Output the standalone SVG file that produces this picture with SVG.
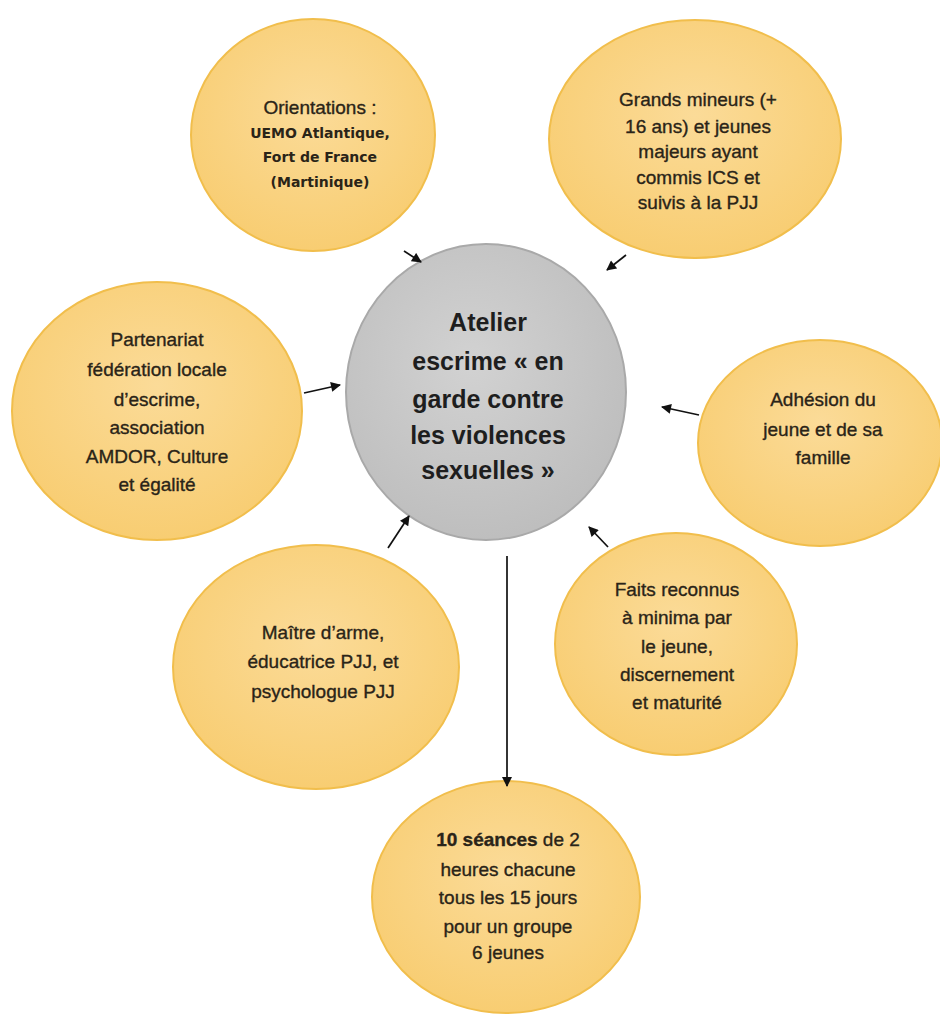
<svg xmlns="http://www.w3.org/2000/svg" width="940" height="1016" viewBox="0 0 940 1016">
<defs>
<radialGradient id="yg" cx="50%" cy="40%" r="60%">
<stop offset="0" stop-color="#FBDB98"/>
<stop offset="1" stop-color="#F8CD72"/>
</radialGradient>
<radialGradient id="gg" cx="45%" cy="40%" r="60%">
<stop offset="0" stop-color="#D2D2D2"/>
<stop offset="1" stop-color="#BEBEBE"/>
</radialGradient>
<marker id="ah" viewBox="0 0 10 10" refX="9" refY="5" markerWidth="11" markerHeight="10" orient="auto" markerUnits="userSpaceOnUse">
<path d="M0,0 L10,5 L0,10 z" fill="#111"/>
</marker>
</defs>
<style>
.y{fill:url(#yg);stroke:#F1BE4C;stroke-width:2}
.g{fill:url(#gg);stroke:#A9A9A9;stroke-width:2}
.t{font-family:"Liberation Sans",Arial,sans-serif;font-size:19px;fill:#2A2418;stroke:#2A2418;stroke-width:0.35;text-anchor:middle}
.c{font-family:"Liberation Sans",Arial,sans-serif;font-size:25px;font-weight:bold;fill:#1E1E1E;text-anchor:middle}
.s{font-family:"DejaVu Sans",Verdana,sans-serif;font-size:14px;font-weight:bold;fill:#2A2418;text-anchor:middle}
.e{stroke:#111;stroke-width:1.7;fill:none;marker-end:url(#ah)}
</style>
<rect width="940" height="1016" fill="#fff"/>
<g id="orientations">
<ellipse class="y" cx="313" cy="135" rx="122" ry="116"/>
<text class="t" x="320" y="114">Orientations :</text>
<text class="s" x="320" y="138">UEMO Atlantique,</text>
<text class="s" x="320" y="162">Fort de France</text>
<text class="s" x="320" y="187">(Martinique)</text>
</g>
<g id="grands-mineurs">
<ellipse class="y" cx="695" cy="139" rx="146" ry="119"/>
<text class="t" x="698" y="106">Grands mineurs (+</text>
<text class="t" x="698" y="133">16 ans) et jeunes</text>
<text class="t" x="698" y="158">majeurs ayant</text>
<text class="t" x="698" y="184">commis ICS et</text>
<text class="t" x="698" y="209">suivis à la PJJ</text>
</g>
<g id="atelier">
<ellipse class="g" cx="486" cy="392" rx="140" ry="148"/>
<text class="c" x="488" y="331">Atelier</text>
<text class="c" x="488" y="370">escrime « en</text>
<text class="c" x="488" y="408">garde contre</text>
<text class="c" x="488" y="444">les violences</text>
<text class="c" x="488" y="479">sexuelles »</text>
</g>
<g id="partenariat">
<ellipse class="y" cx="157" cy="411" rx="145" ry="129"/>
<text class="t" x="157" y="346">Partenariat</text>
<text class="t" x="157" y="376">fédération locale</text>
<text class="t" x="157" y="406">d’escrime,</text>
<text class="t" x="157" y="434">association</text>
<text class="t" x="157" y="463">AMDOR, Culture</text>
<text class="t" x="157" y="491">et égalité</text>
</g>
<g id="adhesion">
<ellipse class="y" cx="820" cy="443" rx="122" ry="103"/>
<text class="t" x="823" y="406">Adhésion du</text>
<text class="t" x="823" y="436">jeune et de sa</text>
<text class="t" x="823" y="464">famille</text>
</g>
<g id="maitre">
<ellipse class="y" cx="316" cy="667" rx="143" ry="122"/>
<text class="t" x="323" y="639">Maître d’arme,</text>
<text class="t" x="323" y="668">éducatrice PJJ, et</text>
<text class="t" x="323" y="698">psychologue PJJ</text>
</g>
<g id="faits">
<ellipse class="y" cx="676" cy="644" rx="121" ry="111"/>
<text class="t" x="677" y="596">Faits reconnus</text>
<text class="t" x="677" y="624">à minima par</text>
<text class="t" x="677" y="653">le jeune,</text>
<text class="t" x="677" y="681">discernement</text>
<text class="t" x="677" y="709">et maturité</text>
</g>
<g id="seances">
<ellipse class="y" cx="506" cy="897" rx="134" ry="116"/>
<text class="t" x="508" y="846"><tspan font-weight="bold">10 séances</tspan> de 2</text>
<text class="t" x="508" y="876">heures chacune</text>
<text class="t" x="508" y="904">tous les 15 jours</text>
<text class="t" x="508" y="933">pour un groupe</text>
<text class="t" x="508" y="959">6 jeunes</text>
</g>
<g id="connectors">
<line class="e" x1="404" y1="251" x2="421" y2="262"/>
<line class="e" x1="626" y1="255" x2="607" y2="270"/>
<line class="e" x1="304" y1="393" x2="340" y2="385"/>
<line class="e" x1="699" y1="415" x2="662" y2="407"/>
<line class="e" x1="388" y1="548" x2="409" y2="516"/>
<line class="e" x1="608" y1="547" x2="589" y2="527"/>
<line class="e" x1="507" y1="556" x2="507" y2="786"/>
</g>
</svg>
